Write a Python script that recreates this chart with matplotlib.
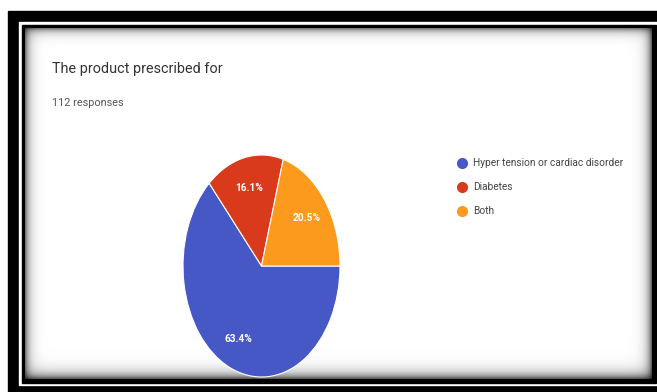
import numpy as np
import matplotlib
matplotlib.use("Agg")
import matplotlib.pyplot as plt
from matplotlib.patches import Rectangle

# ---------------------------data--------------------------- #
title = "The product prescribed for"
n_responses = 112
labels = ["Hyper tension or cardiac disorder", "Diabetes", "Both"]
counts = [71, 18, 23]          # 63.4% / 16.1% / 20.5% of 112
colors = ["#4657c6", "#da3a1c", "#fb9a1c"]

FONT = ["Roboto", "DejaVu Sans"]
W, H = 657, 392

fig = plt.figure(figsize=(W / 100, H / 100), dpi=100)

# full-figure axes in pixel coordinates for frame, texts and legend
ax = fig.add_axes([0, 0, 1, 1])
ax.set_xlim(0, W)
ax.set_ylim(H, 0)
ax.axis("off")

# double black frame (screenshot border)
ax.add_patch(Rectangle((8, 11), W - 8, H - 11, color="black", zorder=1))
ax.add_patch(Rectangle((19, 22), W - 19, 385 - 22, color="white", zorder=2))
ax.add_patch(Rectangle((22, 25), 656 - 22, 383 - 25, color="black", zorder=3))

# card with inner shadow
x0, x1, y0, y1 = 25, 652, 28, 379
xs = np.arange(x1 - x0) + 0.5
ys = np.arange(y1 - y0) + 0.5
fx = (1 - 0.6 * np.exp(-xs / 4.5)) * (1 - 0.6 * np.exp(-(xs[-1] - xs) / 4.5))
fy = (1 - 0.6 * np.exp(-ys / 4.0)) * (1 - 0.65 * np.exp(-(ys[-1] - ys) / 5.5))
shade = np.outer(fy, fx)
ax.imshow(shade, cmap="gray", vmin=0, vmax=1, extent=(x0, x1, y1, y0),
          origin="upper", aspect="auto", zorder=4, interpolation="bilinear")

# title and response count
ax.text(52, 72.5, title, fontsize=10.4, color="#333333", family=FONT,
        va="baseline", ha="left", zorder=6)
ax.text(52, 105.5, f"{n_responses} responses", fontsize=7.8, color="#555555",
        family=FONT, va="baseline", ha="left", zorder=6)

# legend
for i, (lab, col) in enumerate(zip(labels, colors)):
    y = 163 + 24 * i
    ax.plot(462, y, "o", ms=7, color=col, mec=col, zorder=6)
    ax.text(473, y, lab, fontsize=7.3, color="#444444", family=FONT,
            va="center", ha="left", zorder=6)

# ---------------------------pie--------------------------- #
cx, cy, rx, ry = 261.5, 266, 78.5, 111
pax = fig.add_axes([(cx - rx) / W, 1 - (cy + ry) / H, 2 * rx / W, 2 * ry / H])
pax.set_zorder(5)
wedges, texts, autotexts = pax.pie(
    counts, colors=colors, startangle=0, counterclock=False,
    autopct="%1.1f%%", pctdistance=0.72,
    wedgeprops=dict(edgecolor="white", linewidth=0.8),
    textprops=dict(color="white", fontsize=7.3, fontweight="bold", family=FONT),
)
pax.set_aspect("auto")
pax.set_xlim(-1, 1)
pax.set_ylim(-1, 1)
pax.axis("off")

fig.savefig("out.png", dpi=100)
